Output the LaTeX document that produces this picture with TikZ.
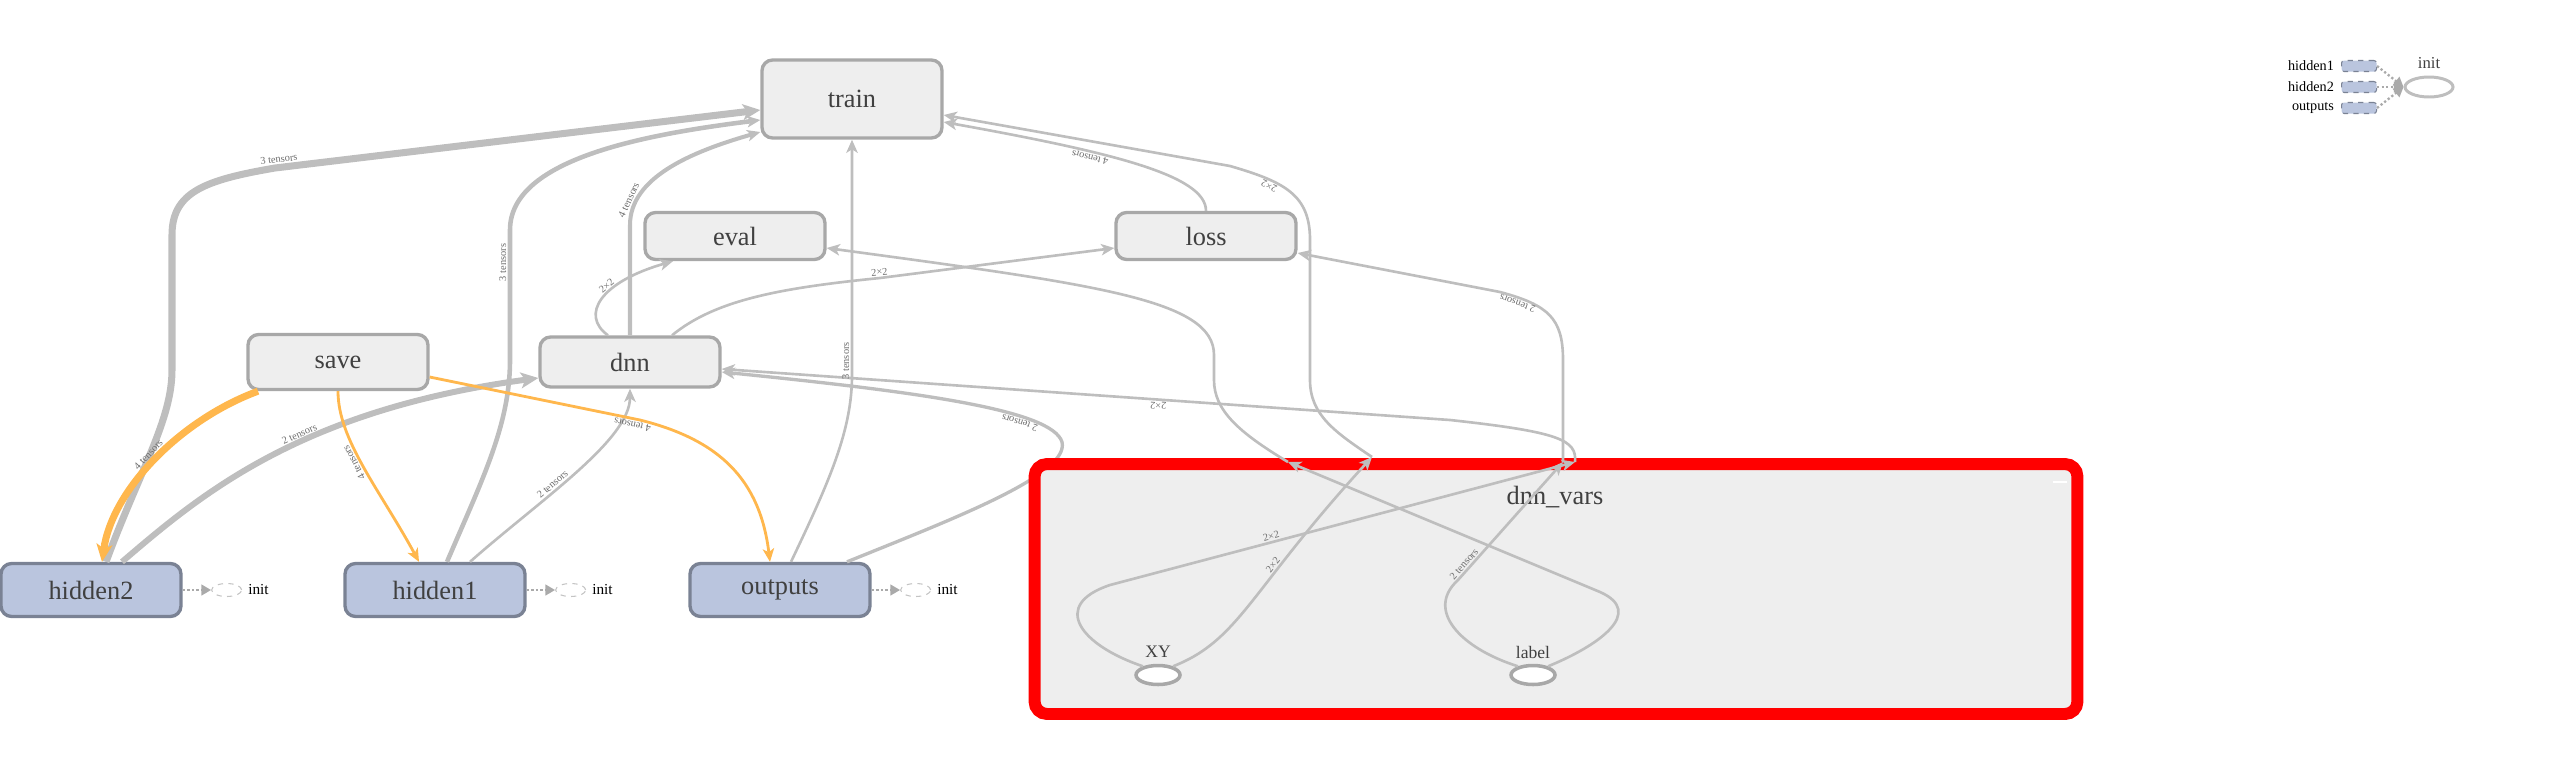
\documentclass[tikz,border=0pt]{standalone}
\usepackage{fontspec}
\setmainfont{Liberation Serif}
\usetikzlibrary{arrows.meta,calc,shapes.geometric}
\definecolor{opfill}{RGB}{238,238,238}
\definecolor{opline}{RGB}{168,168,168}
\definecolor{varfill}{RGB}{186,197,222}
\definecolor{varline}{RGB}{122,130,148}
\definecolor{edgegray}{RGB}{190,190,190}
\definecolor{refedge}{RGB}{255,183,77}
\definecolor{tagred}{RGB}{255,0,0}
\definecolor{ink}{RGB}{64,64,64}
\definecolor{labelgray}{RGB}{110,110,110}
\definecolor{initgray}{RGB}{196,196,196}
\definecolor{dotgray}{RGB}{170,170,170}

\begin{document}
\begin{tikzpicture}[x=0.02cm,y=-0.02cm,
    opnode/.style={draw=opline,fill=opfill,line width=1.9pt,rounded corners=6pt,minimum width=3.6cm,
      minimum height=0.94cm,text=ink,font=\fontsize{15}{18}\selectfont},
    varnode/.style={opnode,draw=varline,fill=varfill,minimum height=1.06cm},
    tensor/.style={ellipse,draw=opline,fill=white,line width=2pt,minimum width=0.88cm,minimum height=0.38cm,inner sep=0pt},
    initv/.style={ellipse,draw=initgray,dashed,line width=0.6pt,fill=white,minimum width=0.6cm,minimum height=0.26cm,inner sep=0pt},
    initbig/.style={ellipse,draw=edgegray,line width=1.7pt,fill=white,minimum width=0.96cm,minimum height=0.4cm,inner sep=0pt},
    initarrow/.style={draw=dotgray,line width=1.3pt,dash pattern=on 1.3pt off 1.3pt,arrows={-Triangle[length=5.5pt,width=6pt]}},
    keybox/.style={draw=varline,fill=varfill,dashed,line width=0.6pt,rounded corners=1.5pt,minimum width=0.7cm,minimum height=0.22cm,inner sep=0pt},
    smalltext/.style={font=\fontsize{8.7}{10}\selectfont,inner sep=1pt},
    flow/.style={draw=edgegray,line width=1.5pt,arrows={-Stealth[length=7.5pt,width=6.5pt,inset=2pt]}},
    bigflow/.style={flow,arrows={-Stealth[length=10pt,width=9pt,inset=2.5pt]}},
    refflow/.style={draw=refedge,line width=1.6pt,arrows={Stealth[length=7.5pt,width=6.5pt,inset=2pt]-}},
    bigref/.style={refflow,arrows={Stealth[length=10pt,width=9pt,inset=2.5pt]-}},
    elabel/.style={font=\fontsize{5.9}{7}\selectfont,text=labelgray,sloped,allow upside down,above,inner sep=0.8pt}]
  \useasboundingbox (0,0) rectangle (2572,782);

  \foreach \n/\x/\y/\h in {train/852/99/1.56,eval/735/236/0.94,loss/1206/236/0.94,save/338/362/1.1,dnn/630/362/1.0}
    \node[opnode,minimum height=\h cm] (\n) at (\x,\y) {\n};
  \foreach \n/\x in {hidden2/91,hidden1/435,outputs/780}{
    \node[varnode] (\n) at (\x,590) {\n};
    \node[initv] (\n-init) at ($(\n.east)+(44,0)$) {};
    \draw[initarrow] (\n.east) -- (\n-init.west);
    \node[smalltext,anchor=west] (\n-initl) at ($(\n-init.east)+(4,0)$) {init};
  }

  \draw[flow,line width=1.9pt] ($(outputs.north)+(67,0)$) .. controls (950,520) and (1070,475) .. (1062,442)
    .. controls (1052,410) and (920,392) .. ($(dnn.east)+(0,10)$) node[elabel,pos=0.3]{2 tensors};

  \node[draw=tagred,fill=opfill,line width=6.8pt,rounded corners=7pt,minimum width=20.86cm,minimum height=5cm] (dnnvars) at (1556,589) {};
  \node[text=ink,font=\fontsize{15}{18}\selectfont] (dnnvarsl) at (1555,497) {dnn\_vars};
  \draw[white,line width=1.3pt] (2053,482) -- (2067,482);
  \foreach \n/\x in {XY/1158,label/1533}{
    \node[tensor] (\n-t) at (\x,675) {};
    \node[text=ink,font=\fontsize{10}{12}\selectfont] (\n-tl) at (\x,652) {\n};
  }
  \coordinate (bEval) at (1288,462);
  \coordinate (bTrain) at (1372,457);
  \coordinate (bLoss) at (1563,462);
  \coordinate (bDnn) at (1575,462);

  \draw[flow] (XY-t.30) .. controls (1240,640) and (1250,590) .. (bTrain) node[elabel,pos=0.65]{2×2};
  \draw[flow] (XY-t.150) .. controls (1080,645) and (1050,605) .. (1110,585) -- (bDnn) node[elabel,pos=0.35]{2×2};
  \draw[flow] (label-t.150) .. controls (1460,648) and (1425,610) .. (1458,580) -- (bLoss) node[elabel,pos=0.1]{2 tensors};
  \draw[flow] (label-t.30) .. controls (1600,645) and (1645,612) .. (1600,592) -- (bEval);

  \draw[flow] (bTrain) .. controls (1335,432) and (1310,415) .. (1310,380) -- (1310,240)
    .. controls (1310,195) and (1285,182) .. (1230,166) node[elabel,pos=0.7]{2×2} -- ($(train.east)+(0,16)$);
  \draw[flow] (bDnn) .. controls (1577,440) and (1560,432) .. (1450,420) -- ($(dnn.east)+(0,7)$) node[elabel,pos=0.4]{2×2};
  \draw[flow] (bLoss) -- (1563,360) .. controls (1563,318) and (1548,305) .. (1500,292) node[elabel,pos=0.85]{2 tensors}
    -- ($(loss.east)+(0,17)$);
  \draw[flow] (bEval) .. controls (1238,432) and (1214,410) .. (1214,380) -- (1214,355)
    .. controls (1214,300) and (1100,285) .. ($(eval.east)+(0,12)$);

  \draw[flow] (loss.north) .. controls (1206,175) and (1110,152) .. ($(train.east)+(0,23)$) node[elabel,pos=0.65]{4 tensors};
  \draw[flow,line width=2.3pt] (dnn.north) -- (630,225) .. controls (630,178) and (690,152) .. ($(train.west)+(0,33)$)
    node[elabel,pos=0.17]{4 tensors};
  \draw[flow,line width=2.6pt] ($(hidden1.north)+(12,0)$) .. controls (482,480) and (510,425) .. (510,360)
    -- (510,230) node[elabel,pos=0.75]{3 tensors} .. controls (510,160) and (640,135) .. ($(train.west)+(0,21)$);
  \draw[bigflow,line width=4pt] ($(hidden2.north)+(15,0)$) .. controls (140,470) and (172,420) .. (172,370) -- (172,235)
    .. controls (172,192) and (205,180) .. (275,168) -- ($(train.west)+(0,11)$) node[elabel,pos=0.01]{3 tensors};
  \draw[flow] ($(outputs.north)+(11,0)$) .. controls (830,480) and (852,430) .. (852,375) -- (train.south)
    node[elabel,pos=0.06]{3 tensors};
  \draw[flow] ($(dnn.north)+(-22,0)$) .. controls (580,315) and (600,282) .. ($(eval.south)+(-62,0)$) node[elabel,pos=0.6]{2×2};
  \draw[flow] ($(dnn.north)+(42,0)$) .. controls (715,300) and (780,288) .. (880,278) node[elabel,pos=1]{2×2}
    -- ($(loss.west)+(0,12)$);
  \draw[bigflow,line width=3.4pt] ($(hidden2.north)+(31,0)$) .. controls (200,495) and (300,410) .. ($(dnn.west)+(0,16)$)
    node[elabel,pos=0.58]{2 tensors};
  \draw[flow] ($(hidden1.north)+(35,0)$) .. controls (540,500) and (630,440) .. (dnn.south) node[elabel,pos=0.4]{2 tensors};

  \draw[bigref,line width=4pt] ($(hidden2.north)+(11,0)$) .. controls (112,490) and (180,420) .. ($(save.south)+(-80,0)$)
    node[elabel,pos=0.5]{4 tensors};
  \draw[refflow] ($(hidden1.north)+(-16,0)$) .. controls (380,490) and (338,440) .. (save.south) node[elabel,pos=0.55]{4 tensors};
  \draw[refflow] ($(outputs.north)+(-10,0)$) .. controls (760,480) and (720,440) .. (640,420) -- ($(save.east)+(0,15)$)
    node[elabel,pos=0.03]{4 tensors};

  \foreach \n/\y in {hidden1/66,hidden2/87,outputs/108}{
    \node[keybox] (\n-key) at (2359,\y) {};
    \node[font=\fontsize{8.1}{10}\selectfont,anchor=east,inner sep=1pt] (\n-keyl) at (2336,\y) {\n};
  }
  \node[initbig] (initnode) at (2429,87) {};
  \node[text=ink,font=\fontsize{9.5}{11}\selectfont] (initnodel) at (2429,63) {init};
  \foreach \n in {hidden1,hidden2,outputs}
    \draw[initarrow] (\n-key.east) -- (initnode.west);
\end{tikzpicture}
\end{document}
